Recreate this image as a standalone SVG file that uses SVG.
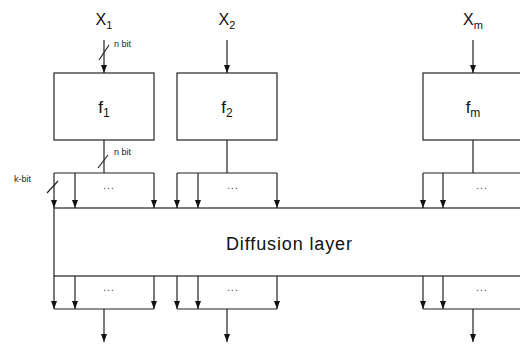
<svg xmlns="http://www.w3.org/2000/svg" width="520" height="345" viewBox="0 0 520 345">
<defs>
<marker id="ah" viewBox="0 0 8 6" refX="8" refY="3" markerWidth="8" markerHeight="6" markerUnits="userSpaceOnUse" orient="auto">
<path d="M0,0 L8,3 L0,6 Z" fill="#111"/>
</marker>
</defs>
<style>
.ln{stroke:#222;stroke-width:1.2;fill:none}
.ar{stroke:#222;stroke-width:1.2;fill:none}
.bx{stroke:#222;stroke-width:1.2;fill:#fff}
.t{font-family:"Liberation Sans",Arial,sans-serif;fill:#111}
.s{font-family:"Liberation Sans",Arial,sans-serif;fill:#222;font-size:9px}
.d{font-family:"Liberation Sans",Arial,sans-serif;fill:#333;font-size:10px;letter-spacing:1px}
</style>
<rect width="520" height="345" fill="#fff"/>
<g id="x1"><text class="t" x="104" y="25" font-size="16" text-anchor="middle">X<tspan font-size="11" dy="4">1</tspan></text></g>
<g id="x2"><text class="t" x="227" y="25" font-size="16" text-anchor="middle">X<tspan font-size="11" dy="4">2</tspan></text></g>
<g id="xm"><text class="t" x="473" y="25" font-size="16" text-anchor="middle">X<tspan font-size="11" dy="4">m</tspan></text></g>
<g id="f1"><rect class="bx" x="54" y="73" width="100" height="67"/><text class="t" x="104" y="113" font-size="17" text-anchor="middle">f<tspan font-size="12" dy="4">1</tspan></text></g>
<g id="f2"><rect class="bx" x="177" y="73" width="100" height="67"/><text class="t" x="227" y="113" font-size="17" text-anchor="middle">f<tspan font-size="12" dy="4">2</tspan></text></g>
<g id="fm"><rect class="bx" x="423" y="73" width="110" height="67"/><text class="t" x="473" y="113" font-size="17" text-anchor="middle">f<tspan font-size="12" dy="4">m</tspan></text></g>
<g id="diffusion"><rect class="bx" x="54" y="208" width="480" height="68"/><text class="t" x="289" y="250" font-size="18" text-anchor="middle" textLength="126" lengthAdjust="spacing">Diffusion layer</text></g>
<g id="connectors">
<line class="ar" x1="104" y1="40" x2="104" y2="73" marker-end="url(#ah)"/>
<line class="ar" x1="227" y1="40" x2="227" y2="73" marker-end="url(#ah)"/>
<line class="ar" x1="473" y1="40" x2="473" y2="73" marker-end="url(#ah)"/>
<line class="ln" x1="99" y1="60" x2="109" y2="45"/>
<text class="s" x="114" y="47">n  bit</text>
<line class="ln" x1="104" y1="140" x2="104" y2="173"/>
<line class="ln" x1="227" y1="140" x2="227" y2="173"/>
<line class="ln" x1="473" y1="140" x2="473" y2="173"/>
<line class="ln" x1="98" y1="168" x2="108" y2="155"/>
<text class="s" x="114" y="155">n  bit</text>
<text class="s" x="14" y="182">k-bit</text>
<line class="ln" x1="47" y1="193" x2="58" y2="181"/>
<line class="ln" x1="54" y1="173" x2="154" y2="173"/>
<line class="ar" x1="54" y1="173" x2="54" y2="208" marker-end="url(#ah)"/>
<line class="ar" x1="75" y1="173" x2="75" y2="208" marker-end="url(#ah)"/>
<line class="ar" x1="154" y1="173" x2="154" y2="208" marker-end="url(#ah)"/>
<text class="d" x="109" y="189" text-anchor="middle">...</text>
<line class="ln" x1="177" y1="173" x2="277" y2="173"/>
<line class="ar" x1="177" y1="173" x2="177" y2="208" marker-end="url(#ah)"/>
<line class="ar" x1="198" y1="173" x2="198" y2="208" marker-end="url(#ah)"/>
<line class="ar" x1="277" y1="173" x2="277" y2="208" marker-end="url(#ah)"/>
<text class="d" x="233" y="189" text-anchor="middle">...</text>
<line class="ln" x1="423" y1="173" x2="530" y2="173"/>
<line class="ar" x1="423" y1="173" x2="423" y2="208" marker-end="url(#ah)"/>
<line class="ar" x1="443" y1="173" x2="443" y2="208" marker-end="url(#ah)"/>
<text class="d" x="482" y="189" text-anchor="middle">...</text>
<line class="ar" x1="54" y1="276" x2="54" y2="309" marker-end="url(#ah)"/>
<line class="ar" x1="75" y1="276" x2="75" y2="309" marker-end="url(#ah)"/>
<line class="ar" x1="154" y1="276" x2="154" y2="309" marker-end="url(#ah)"/>
<line class="ln" x1="54" y1="309" x2="154" y2="309"/>
<text class="d" x="109" y="291" text-anchor="middle">...</text>
<line class="ar" x1="104" y1="309" x2="104" y2="342" marker-end="url(#ah)"/>
<line class="ar" x1="177" y1="276" x2="177" y2="309" marker-end="url(#ah)"/>
<line class="ar" x1="198" y1="276" x2="198" y2="309" marker-end="url(#ah)"/>
<line class="ar" x1="277" y1="276" x2="277" y2="309" marker-end="url(#ah)"/>
<line class="ln" x1="177" y1="309" x2="277" y2="309"/>
<text class="d" x="233" y="291" text-anchor="middle">...</text>
<line class="ar" x1="227" y1="309" x2="227" y2="342" marker-end="url(#ah)"/>
<line class="ar" x1="423" y1="276" x2="423" y2="309" marker-end="url(#ah)"/>
<line class="ar" x1="443" y1="276" x2="443" y2="309" marker-end="url(#ah)"/>
<line class="ln" x1="423" y1="309" x2="530" y2="309"/>
<text class="d" x="482" y="291" text-anchor="middle">...</text>
<line class="ar" x1="473" y1="309" x2="473" y2="342" marker-end="url(#ah)"/>
</g>
</svg>
